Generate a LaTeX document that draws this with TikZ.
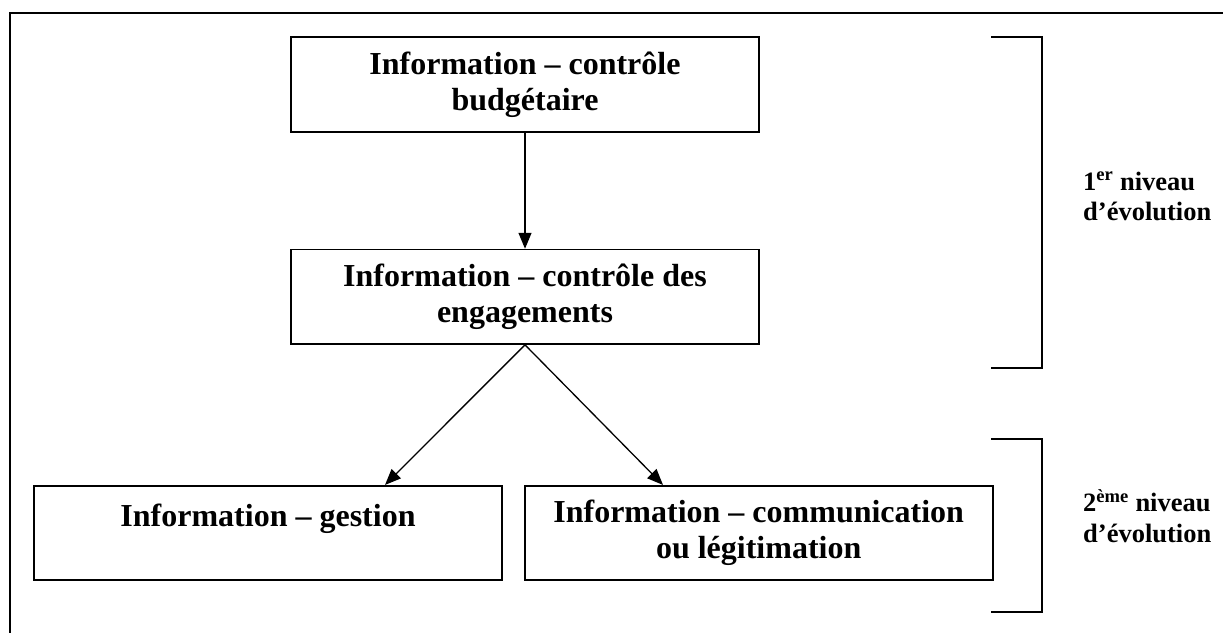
\documentclass[tikz,border=0pt]{standalone}
\usepackage{fontspec}
\setmainfont{Liberation Serif}
\usetikzlibrary{arrows.meta,calc}
\begin{document}
\begin{tikzpicture}[x=1pt,y=-1pt,
  box/.style={draw, line width=1.6pt, minimum width=468pt, minimum height=94.5pt,
    inner sep=0pt, align=center, font=\fontsize{32}{36.5}\selectfont\bfseries},
  arr/.style={line width=1.3pt, -{Triangle[length=16pt,width=13pt]}},
  lbl/.style={anchor=base west, align=left, inner sep=0pt,
    font=\fontsize{26.5}{30.5}\selectfont\bfseries},
  brk/.style={line width=1.8pt},
  frame/.style={line width=1.7pt}]
\useasboundingbox (0,0) rectangle (1223,632);
\clip (0,0) rectangle (1223,632);
% outer frame (clipped at right and bottom)
\draw[frame] (10,660) |- (1240,13.3);
% boxes
\node[box] (b1) at (525,84.5) {Information – contrôle\\budgétaire};
\node[box] (b2) at (525,296.8) {Information – contrôle des\\engagements};
\node[box] (b3) at (268,533) {Information – gestion\\\mbox{}};
\node[box] (b4) at (758.7,533) {Information – communication\\ou légitimation};
% connectors
\draw[arr] (b1.south) -- (b2.north);
\draw[arr] (b2.south) -- (b3.north -| 385,0);
\draw[arr] (b2.south) -- (b4.north -| 663,0);
% brackets
\draw[brk] (991,36.7) -- (1042,36.7) -- (1042,367.7) -- (991,367.7);
\draw[brk] (991,438.7) -- (1042,438.7) -- (1042,612) -- (991,612);
% labels (base anchor = baseline of the last line)
\node[lbl] (l1) at (1083,220.5) {1\textsuperscript{er} niveau\\d’évolution};
\node[lbl] (l2) at (1083,542) {2\textsuperscript{ème} niveau\\d’évolution};
\end{tikzpicture}
\end{document}
